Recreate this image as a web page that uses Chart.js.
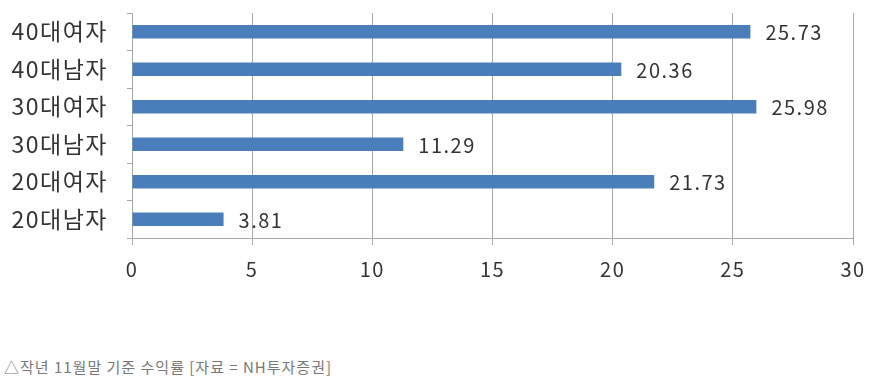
<!DOCTYPE html>
<html>
<head>
<meta charset="utf-8">
<script src="https://cdn.jsdelivr.net/npm/chart.js@4/dist/chart.umd.min.js"></script>
<style>
  html, body { margin: 0; padding: 0; background: #fff; }
  #wrap { position: relative; width: 873px; height: 300px; }
  .caption {
    position: absolute; left: 4px; top: 356px;
    font-family: "Noto Sans CJK KR", "Noto Sans", sans-serif;
    font-size: 15px; letter-spacing: 1px; color: #777; white-space: nowrap;
  }
</style>
</head>
<body>
<div id="wrap"><canvas id="chart" width="873" height="300"></canvas></div>
<div class="caption">△작년 11월말 기준 수익률 [자료 = NH투자증권]</div>
<script>
// categories, top to bottom
var categories = ['40대여자', '40대남자', '30대여자', '30대남자', '20대여자', '20대남자'];
// 수익률 (%)
var returns = [25.73, 20.36, 25.98, 11.29, 21.73, 3.81];
var xTicks = [0, 5, 10, 15, 20, 25, 30];

var labelFont = '"Noto Sans CJK KR", "Noto Sans", sans-serif';

// the original text is set a little wider than the font's default
var spacing = {
  id: 'spacing',
  beforeDraw: function(chart) { chart.ctx.letterSpacing = '1.5px'; }
};

// draws the value at the end of each bar
var barValues = {
  id: 'barValues',
  afterDatasetsDraw: function(chart) {
    var ctx = chart.ctx;
    var meta = chart.getDatasetMeta(0);
    ctx.save();
    ctx.font = '20px ' + labelFont;
    ctx.fillStyle = '#333';
    ctx.textAlign = 'left';
    ctx.textBaseline = 'middle';
    meta.data.forEach(function(bar, i) {
      ctx.fillText(returns[i].toFixed(2), bar.x + 15, bar.y + 1);
    });
    ctx.restore();
  }
};

new Chart(document.getElementById('chart'), {
  type: 'bar',
  data: {
    labels: categories,
    datasets: [{
      data: returns,
      backgroundColor: '#4a7ebb',
      barPercentage: 0.72,
      categoryPercentage: 0.5
    }]
  },
  options: {
    indexAxis: 'y',
    responsive: false,
    maintainAspectRatio: false,
    animation: false,
    layout: { padding: { top: 13, right: 20, left: 0, bottom: 0 } },
    plugins: { legend: { display: false }, tooltip: { enabled: false } },
    scales: {
      x: {
        min: 0, max: 30,
        afterBuildTicks: function(scale) {
          scale.ticks = xTicks.map(function(v) { return { value: v }; });
        },
        // fixed axis box so the plot sits where the original does
        afterFit: function(scale) {
          scale.height = 62;
          scale.paddingLeft = 0;
          scale.paddingRight = 0;
        },
        grid: { color: '#a6a6a6', lineWidth: 1, tickLength: 7 },
        border: { color: '#a6a6a6' },
        ticks: {
          color: '#333',
          padding: 12,
          autoSkip: false,
          maxRotation: 0,
          font: { family: labelFont, size: 20 }
        }
      },
      y: {
        afterFit: function(scale) {
          scale.width = 132;
          scale.paddingTop = 0;
          scale.paddingBottom = 0;
        },
        grid: { offset: true, drawOnChartArea: false, color: '#a6a6a6', tickLength: 5 },
        border: { color: '#a6a6a6' },
        ticks: {
          color: '#333',
          padding: 19,
          autoSkip: false,
          font: { family: labelFont, size: 23 }
        }
      }
    }
  },
  plugins: [spacing, barValues]
});
</script>
</body>
</html>
